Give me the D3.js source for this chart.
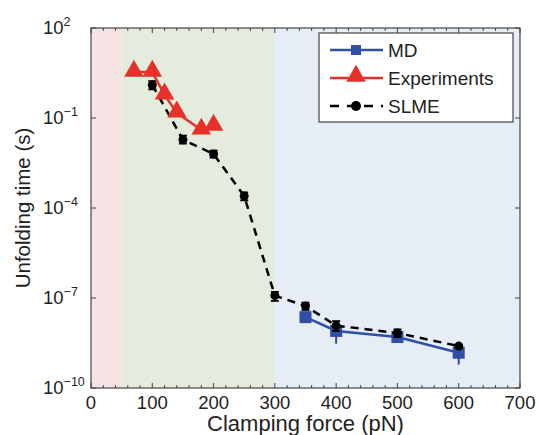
<!DOCTYPE html>
<html>
<head>
<meta charset="utf-8">
<script src="https://cdn.jsdelivr.net/npm/d3@7"></script>
<style>
  body { margin: 0; background: #fff; }
  text { font-family: "Liberation Sans", Arial, sans-serif; fill: #222; }
</style>
</head>
<body>
<div id="chart"></div>
<script>
// regions of clamping force (pN)
const regions = [
  {x0: 0, x1: 50, color: "#f6e3e3"},
  {x0: 50, x1: 300, color: "#e4eddd"},
  {x0: 300, x1: 700, color: "#e6edf6"}
]

const xTicks = [0, 100, 200, 300, 400, 500, 600, 700]
const yTickExps = [2, -1, -4, -7, -10]

// MD simulations
const mdForce = [350, 400, 500, 600]
const mdTime = [2.3e-8, 8e-9, 5e-9, 1.5e-9]
const mdLow = [1.6e-8, 3e-9, 3.6e-9, 6e-10]
const mdHigh = [3e-8, 1.2e-8, 6e-9, 2e-9]

// experiments
const expForce = [70, 100, 120, 140, 180, 200]
const expTime = [3.4, 3.4, 0.59, 0.148, 0.04, 0.054]

// SLME model
const slmeForce = [100, 150, 200, 250, 300, 350, 400, 500, 600]
const slmeTime = [1.26, 0.019, 0.0063, 2.5e-4, 1.2e-7, 5.4e-8, 1.2e-8, 6.8e-9, 2.5e-9]
const slmeLow = [0.9, 0.014, 0.0048, 1.8e-4, 8e-8, 4e-8, 8e-9, 5e-9, 2.2e-9]
const slmeHigh = [1.7, 0.026, 0.0082, 3.3e-4, 1.6e-7, 7e-8, 1.7e-8, 9e-9, 2.8e-9]

const width = 539, height = 435
const margin = {top: 28, right: 19, bottom: 47, left: 91}

const svg = d3.select("#chart").append("svg")
  .attr("width", width)
  .attr("height", height)

const x = d3.scaleLinear()
  .domain([0, 700])
  .range([margin.left, width - margin.right])

const y = d3.scaleLog()
  .domain([1e-10, 1e2])
  .range([height - margin.bottom, margin.top])

// shaded regions
svg.append("g").selectAll("rect")
  .data(regions)
  .join("rect")
    .attr("x", d => x(d.x0))
    .attr("y", margin.top)
    .attr("width", d => x(d.x1) - x(d.x0))
    .attr("height", y(1e-10) - y(1e2))
    .attr("fill", d => d.color)

// ticks (inward, on all four sides)
const tickG = svg.append("g").attr("stroke", "#444").attr("stroke-width", 1)
const minorX = d3.range(0, 701, 20)
minorX.forEach(v => {
  const len = v % 100 == 0 ? 5 : 3
  tickG.append("line").attr("x1", x(v)).attr("x2", x(v))
    .attr("y1", y(1e-10)).attr("y2", y(1e-10) - len)
  tickG.append("line").attr("x1", x(v)).attr("x2", x(v))
    .attr("y1", y(1e2)).attr("y2", y(1e2) + len)
})
yTickExps.forEach(e => {
  const v = Math.pow(10, e)
  tickG.append("line").attr("x1", x(0)).attr("x2", x(0) + 5)
    .attr("y1", y(v)).attr("y2", y(v))
  tickG.append("line").attr("x1", x(700)).attr("x2", x(700) - 5)
    .attr("y1", y(v)).attr("y2", y(v))
})

// frame
svg.append("rect")
  .attr("x", x(0))
  .attr("y", y(1e2))
  .attr("width", x(700) - x(0))
  .attr("height", y(1e-10) - y(1e2))
  .attr("fill", "none")
  .attr("stroke", "#444")
  .attr("stroke-width", 1.2)

// tick labels
svg.append("g").selectAll("text")
  .data(xTicks)
  .join("text")
    .attr("x", d => x(d))
    .attr("y", 409)
    .attr("text-anchor", "middle")
    .attr("font-size", 18.5)
    .text(d => d)

const yLab = svg.append("g").selectAll("text")
  .data(yTickExps)
  .join("text")
    .attr("x", 43)
    .attr("y", d => y(Math.pow(10, d)) + 6)
    .attr("font-size", 18.5)
yLab.append("tspan").text("10")
yLab.append("tspan")
  .attr("dy", -8)
  .attr("font-size", 12.5)
  .text(d => d < 0 ? "\u2212" + (-d) : d)

// axis titles
svg.append("text")
  .attr("x", (x(0) + x(700)) / 2)
  .attr("y", 431)
  .attr("text-anchor", "middle")
  .attr("font-size", 22)
  .text("Clamping force (pN)")

svg.append("text")
  .attr("transform", `translate(30, ${(y(1e2) + y(1e-10)) / 2}) rotate(-90)`)
  .attr("text-anchor", "middle")
  .attr("font-size", 20.5)
  .text("Unfolding time (s)")

const line = d3.line()
  .x(d => x(d[0]))
  .y(d => y(d[1]))

const red = "#e8302a", blue = "#2f4fa6"

// MD
const md = mdForce.map((f, i) => [f, mdTime[i], mdLow[i], mdHigh[i]])
svg.append("path")
  .attr("d", line(md))
  .attr("fill", "none")
  .attr("stroke", blue)
  .attr("stroke-width", 2.5)
svg.append("g").selectAll("line")
  .data(md)
  .join("line")
    .attr("x1", d => x(d[0])).attr("x2", d => x(d[0]))
    .attr("y1", d => y(d[2])).attr("y2", d => y(d[3]))
    .attr("stroke", blue)
    .attr("stroke-width", 2)
svg.append("g").selectAll("rect")
  .data(md)
  .join("rect")
    .attr("x", d => x(d[0]) - 6)
    .attr("y", d => y(d[1]) - 6)
    .attr("width", 12)
    .attr("height", 12)
    .attr("fill", blue)

// SLME
const slme = slmeForce.map((f, i) => [f, slmeTime[i], slmeLow[i], slmeHigh[i]])
svg.append("path")
  .attr("d", line(slme))
  .attr("fill", "none")
  .attr("stroke", "#000")
  .attr("stroke-width", 2.5)
  .attr("stroke-dasharray", "8,6")
const eb = svg.append("g").attr("stroke", "#000").attr("stroke-width", 1.8)
slme.forEach(d => {
  eb.append("line").attr("x1", x(d[0])).attr("x2", x(d[0]))
    .attr("y1", y(d[2])).attr("y2", y(d[3]))
  ;[d[2], d[3]].forEach(v => eb.append("line")
    .attr("x1", x(d[0]) - 4).attr("x2", x(d[0]) + 4)
    .attr("y1", y(v)).attr("y2", y(v)))
})
svg.append("g").selectAll("circle")
  .data(slme)
  .join("circle")
    .attr("cx", d => x(d[0]))
    .attr("cy", d => y(d[1]))
    .attr("r", 4.5)
    .attr("fill", "#000")

// experiments
const exp = expForce.map((f, i) => [f, expTime[i]])
svg.append("path")
  .attr("d", line(exp))
  .attr("fill", "none")
  .attr("stroke", red)
  .attr("stroke-width", 2.5)
const tri = d3.symbol().type(d3.symbolTriangle).size(165)
svg.append("g").selectAll("path")
  .data(exp)
  .join("path")
    .attr("d", tri)
    .attr("transform", d => `translate(${x(d[0])}, ${y(d[1]) - 1})`)
    .attr("fill", red)

// legend
const lg = svg.append("g")
lg.append("rect")
  .attr("x", 319).attr("y", 33)
  .attr("width", 194).attr("height", 89)
  .attr("fill", "#fff")
  .attr("stroke", "#444")
  .attr("stroke-width", 1.2)

const legendItems = [
  {label: "MD", y: 50, color: blue, dash: null, marker: "square"},
  {label: "Experiments", y: 78, color: red, dash: null, marker: "triangle"},
  {label: "SLME", y: 106, color: "#000", dash: "8,6", marker: "circle"}
]
legendItems.forEach(d => {
  lg.append("line")
    .attr("x1", 330).attr("x2", 383)
    .attr("y1", d.y).attr("y2", d.y)
    .attr("stroke", d.color)
    .attr("stroke-width", 2.5)
    .attr("stroke-dasharray", d.dash ? "9,8" : null)
  if (d.marker == "square") {
    lg.append("rect").attr("x", 351).attr("y", d.y - 5)
      .attr("width", 10).attr("height", 10).attr("fill", d.color)
  } else if (d.marker == "triangle") {
    lg.append("path").attr("d", tri)
      .attr("transform", `translate(356, ${d.y - 2})`)
      .attr("fill", d.color)
  } else {
    lg.append("circle").attr("cx", 356).attr("cy", d.y)
      .attr("r", 5).attr("fill", d.color)
  }
  lg.append("text")
    .attr("x", 388)
    .attr("y", d.y + 7)
    .attr("font-size", 19)
    .text(d.label)
})
</script>
</body>
</html>
